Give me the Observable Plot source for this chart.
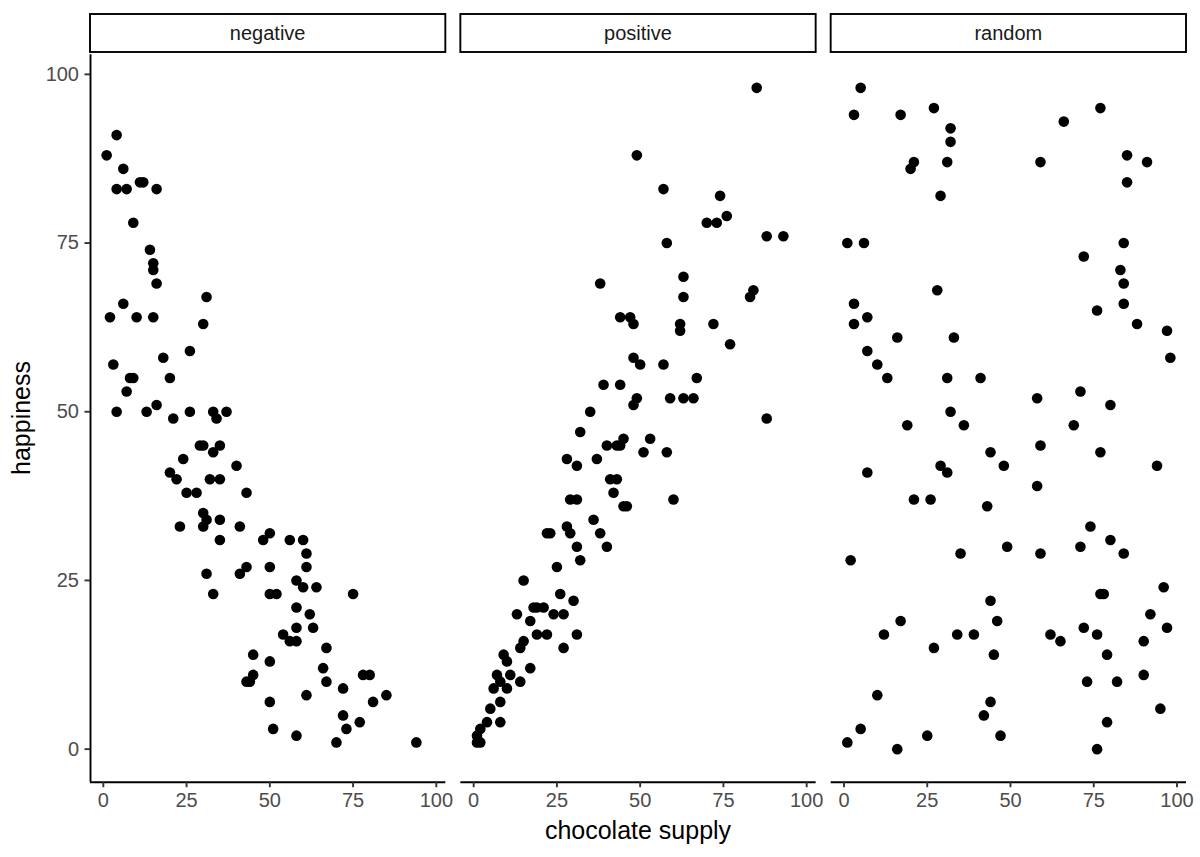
<!DOCTYPE html>
<html>
<head>
<meta charset="utf-8">
<script src="https://cdn.jsdelivr.net/npm/d3@7"></script>
<script src="https://cdn.jsdelivr.net/npm/@observablehq/plot@0.6"></script>
<style>
  html, body { margin: 0; padding: 0; background: white; }
  #chart { width: 1200px; height: 857px; }
</style>
</head>
<body>
<div id="chart"></div>
<script>
const panels = ["negative", "positive", "random"];
const xTicks = [0, 25, 50, 75, 100];
const yTicks = [0, 25, 50, 75, 100];
const xTitle = "chocolate supply";
const yTitle = "happiness";

const negX = [4,1,6,4,7,11,12,16,9,14,15,15,16,31,6,2,10,15,30,26,18,3,8,9,20,7,16,4,13,21,26,33,34,37,
  29,30,35,33,24,40,20,22,32,35,25,28,43,30,31,35,23,30,41,50,48,35,56,60,61,43,41,50,61,31,58,60,64,33,50,52,75,58,62,58,63,54,56,58,67,45,50,66,45,43,44,67,78,80,72,61,85,50,81,72,77,73,51,58,70,94];
const negY = [91,88,86,83,83,84,84,83,78,74,72,71,69,67,66,64,64,64,63,59,58,57,55,55,55,53,51,50,50,49,50,50,49,50,
  45,45,45,44,43,42,41,40,40,40,38,38,38,35,34,34,33,33,33,32,31,31,31,31,29,27,26,27,27,26,25,24,24,23,23,23,23,21,20,18,18,17,16,16,15,14,13,12,11,10,10,10,11,11,9,8,8,7,7,5,4,3,3,2,1,1];

const posX = [85,49,57,74,76,70,73,88,93,58,63,38,84,83,63,44,47,48,62,62,72,77,48,50,57,67,39,44,49,48,59,63,66,35,88,32,45,53,
  40,43,44,51,58,28,37,31,41,43,42,29,31,60,45,46,36,28,29,22,23,38,31,40,32,25,15,26,30,18,19,21,13,24,27,17,19,22,31,15,14,27,9,10,17,7,8,11,14,6,10,8,5,4,8,2,1,1,2];
const posY = [98,88,83,82,79,78,78,76,76,75,70,69,68,67,67,64,64,63,63,62,63,60,58,57,57,55,54,54,52,51,52,52,52,50,49,47,46,46,
  45,45,45,44,44,43,43,42,40,40,38,37,37,37,36,36,34,33,32,32,32,32,30,30,28,27,25,23,22,21,21,21,20,20,20,19,17,17,17,16,15,15,14,13,12,11,10,11,10,9,9,7,6,4,4,3,2,1,1];

const randX = [5,3,17,27,32,32,21,20,31,29,77,66,59,85,91,85,1,6,84,72,83,84,28,3,84,76,7,3,88,97,16,33,7,98,10,13,31,41,58,71,80,32,19,36,69,
  59,44,77,29,48,94,7,31,58,21,26,43,74,80,49,71,35,59,84,2,96,77,78,44,92,17,46,72,97,12,34,39,62,76,65,90,27,45,79,90,73,82,10,44,95,42,79,5,25,47,1,16,76];
const randY = [98,94,94,95,92,90,87,86,87,82,95,93,87,88,87,84,75,75,75,73,71,69,68,66,66,65,64,63,63,62,61,61,59,58,57,55,55,55,52,53,51,50,48,48,48,
  45,44,44,42,42,42,41,41,39,37,37,36,33,31,30,30,29,29,29,28,24,23,23,22,20,19,19,18,18,17,17,17,17,17,16,16,15,14,14,11,10,10,8,7,6,5,4,3,2,2,1,0,0];

const rows = [];
negX.forEach((x, i) => rows.push({panel: panels[0], supply: x, happiness: negY[i]}));
posX.forEach((x, i) => rows.push({panel: panels[1], supply: x, happiness: posY[i]}));
randX.forEach((x, i) => rows.push({panel: panels[2], supply: x, happiness: randY[i]}));

// ggplot-style 5% expansion of the data range
const xExt = d3.extent(rows, d => d.supply);
const yExt = d3.extent(rows, d => d.happiness);
const xPad = (xExt[1] - xExt[0]) * 0.05;
const yPad = (yExt[1] - yExt[0]) * 0.05;
const xDomain = [xExt[0] - xPad, xExt[1] + xPad];
const yDomain = [yExt[0] - yPad, yExt[1] + yPad];

const W = 1200, H = 857;
const mL = 90, mR = 14, mT = 54.3, mB = 75.3;

const chart = Plot.plot({
  width: W,
  height: H,
  marginLeft: mL,
  marginRight: mR,
  marginTop: mT,
  marginBottom: mB,
  style: {fontFamily: "'Liberation Sans', Arial, Helvetica, sans-serif", fontSize: "20px", background: "white", color: "black"},
  fx: {domain: panels, paddingInner: 15 / 370, paddingOuter: 0, round: false, axis: null, label: null},
  x: {domain: xDomain, label: null},
  y: {domain: yDomain, label: null},
  marks: [
    Plot.ruleY([yDomain[0]], {stroke: "black", strokeWidth: 1.9}),
    Plot.ruleX([{panel: panels[0]}], {x: () => xDomain[0], fx: "panel", stroke: "black", strokeWidth: 1.9}),
    Plot.axisX({ticks: xTicks, tickSize: 5.5, tickPadding: 5, stroke: "#333333", fill: "#4D4D4D", strokeWidth: 1.9, fontSize: 20, label: null}),
    Plot.axisY({ticks: yTicks, tickSize: 5.5, tickPadding: 6, stroke: "#333333", fill: "#4D4D4D", strokeWidth: 1.9, fontSize: 20, label: null}),
    Plot.dot(rows, {x: "supply", y: "happiness", fx: "panel", r: 5.3, fill: "black", stroke: "none"})
  ]
});

document.getElementById("chart").appendChild(chart);

// strips and axis titles, positioned with the plot's own facet scale
const svg = d3.select(chart.tagName.toLowerCase() === "svg" ? chart : chart.querySelector("svg"));
const fx = chart.scale("fx");
const bw = fx.bandwidth;
const stripTop = 14, stripBottom = 52;
const strips = svg.append("g");
panels.forEach(p => {
  const x0 = fx.apply(p);
  strips.append("rect")
    .attr("x", x0).attr("y", stripTop).attr("width", bw).attr("height", stripBottom - stripTop)
    .attr("fill", "white").attr("stroke", "black").attr("stroke-width", 1.9);
  strips.append("text")
    .attr("x", x0 + bw / 2).attr("y", (stripTop + stripBottom) / 2).attr("dy", "0.35em")
    .attr("text-anchor", "middle").attr("font-size", 20).attr("fill", "#1A1A1A")
    .text(p);
});
const plotLeft = fx.apply(panels[0]);
const plotRight = fx.apply(panels[panels.length - 1]) + bw;
svg.append("text")
  .attr("x", (plotLeft + plotRight) / 2).attr("y", 839)
  .attr("text-anchor", "middle").attr("font-size", 25).attr("fill", "black")
  .text(xTitle);
svg.append("text")
  .attr("transform", `translate(30,${(mT + H - mB) / 2}) rotate(-90)`)
  .attr("text-anchor", "middle").attr("font-size", 25).attr("fill", "black")
  .text(yTitle);
</script>
</body>
</html>
